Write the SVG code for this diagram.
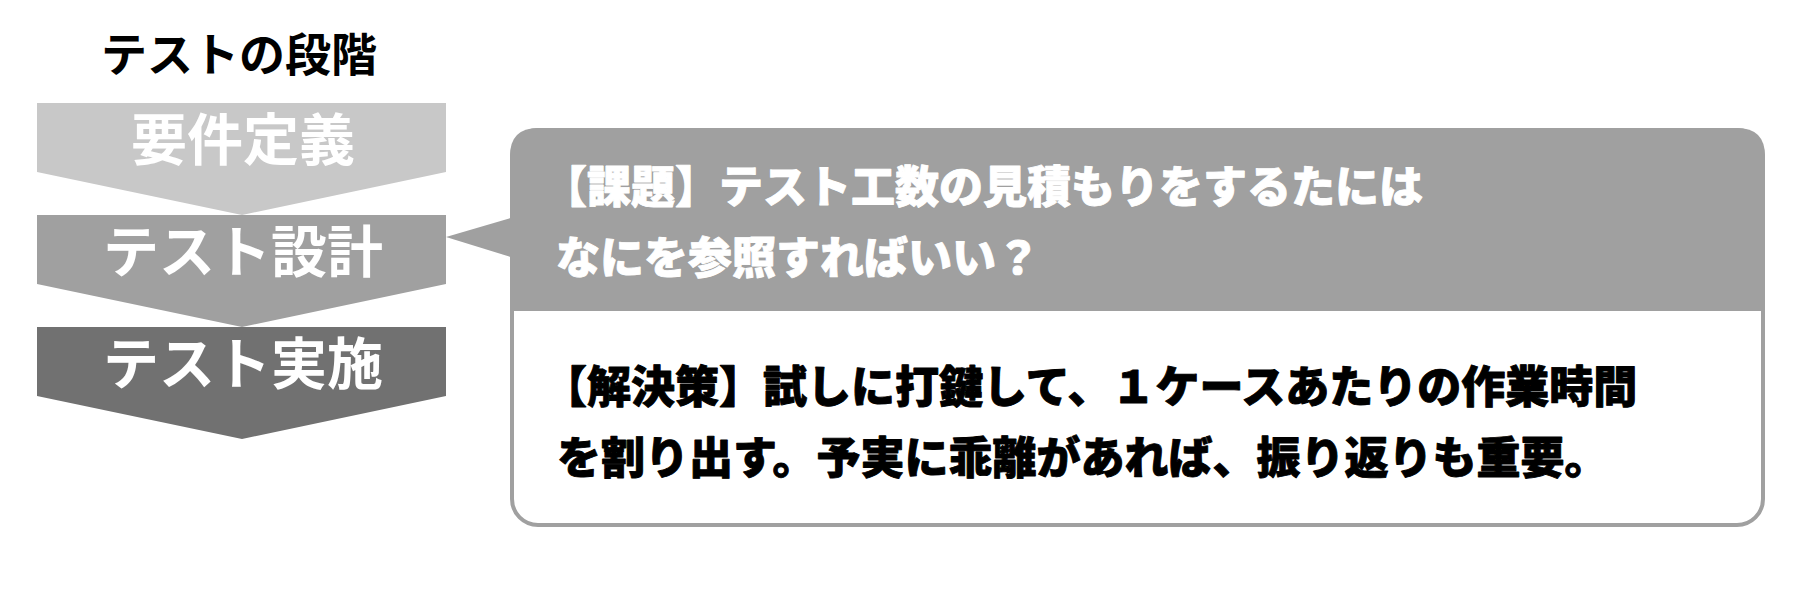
<svg xmlns="http://www.w3.org/2000/svg" width="1800" height="590" viewBox="0 0 1800 590">
  <style>
    .title { font-family: "Noto Sans CJK JP", "Noto Sans", sans-serif; font-weight: 700; font-size: 46px; fill: #000000; }
    .stage { font-family: "Noto Sans CJK JP", "Noto Sans", sans-serif; font-weight: 700; font-size: 56px; fill: #ffffff; text-anchor: middle; }
    .head { font-family: "Noto Sans CJK JP", "Noto Sans", sans-serif; font-weight: 900; font-size: 44px; fill: #ffffff; stroke: #ffffff; stroke-width: 0.9px; stroke-linejoin: round; }
    .body { font-family: "Noto Sans CJK JP", "Noto Sans", sans-serif; font-weight: 900; font-size: 44px; fill: #000000; stroke: #000000; stroke-width: 0.9px; stroke-linejoin: round; }
    .gray { fill: #a0a0a0; }
  </style>
  <rect x="0" y="0" width="1800" height="590" fill="#ffffff"/>

  <g id="title">
    <text class="title" x="101" y="71">テストの段階</text>
  </g>

  <g id="stage-requirements">
    <polygon points="37,103 446,103 446,172 242,215 37,172" fill="#c8c8c8"/>
    <text class="stage" x="243" y="160">要件定義</text>
  </g>
  <g id="stage-design">
    <polygon points="37,215 446,215 446,284 242,327 37,284" fill="#a0a0a0"/>
    <text class="stage" x="243" y="272">テスト設計</text>
  </g>
  <g id="stage-execution">
    <polygon points="37,327 446,327 446,396 242,439 37,396" fill="#717171"/>
    <text class="stage" x="243" y="384">テスト実施</text>
  </g>

  <g id="connectors">
    <polygon class="gray" points="446,237 514,217 514,258"/>
  </g>

  <g id="callout">
    <rect x="512" y="130" width="1251" height="395" rx="26" ry="26" fill="#ffffff" stroke="#a0a0a0" stroke-width="4"/>
    <path class="gray" d="M510,311 L510,156 Q510,128 538,128 L1737,128 Q1765,128 1765,156 L1765,311 Z"/>
    <text class="head" x="543" y="203">【課題】テスト工数の見積もりをするたには</text>
    <text class="head" x="556" y="274">なにを参照すればいい？</text>
    <text class="body" x="543" y="403">【解決策】試しに打鍵して、１ケースあたりの作業時間</text>
    <text class="body" x="557" y="474">を割り出す。予実に乖離があれば、振り返りも重要。</text>
  </g>
</svg>
